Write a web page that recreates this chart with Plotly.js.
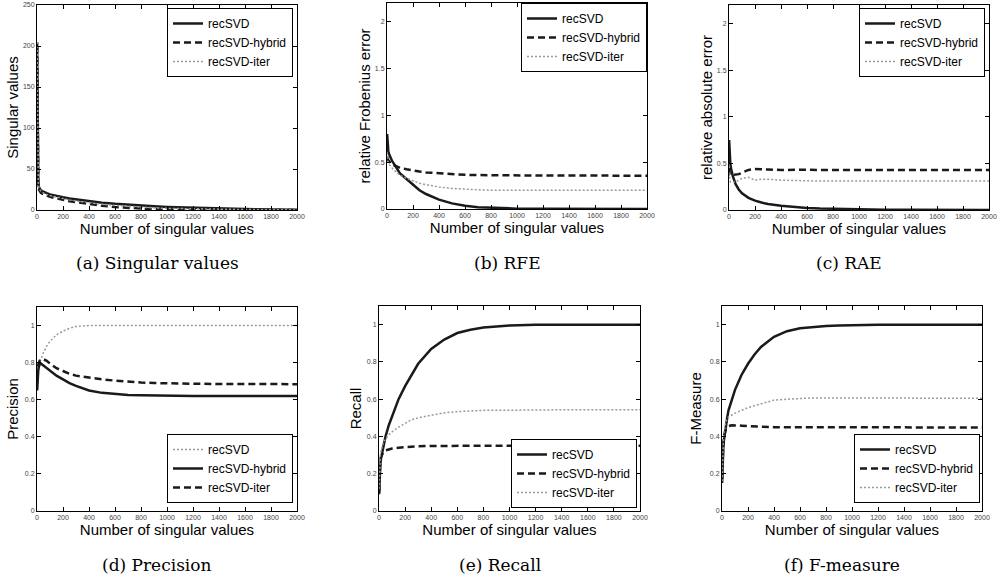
<!DOCTYPE html>
<html>
<head>
<meta charset="utf-8">
<script src="https://cdn.plot.ly/plotly-3.0.1.min.js"></script>
<style>html,body{margin:0;padding:0;background:#fff;}#chart{width:1004px;height:579px;}</style>
</head>
<body>
<div id="chart"></div>
<script>
// Number of singular values (shared x grid)
const nSV = [1,3,5,10,15,20,30,40,50,75,100,150,200,250,300,400,500,600,700,800,900,1000,1200,1400,1600,1800,2000];
const xTicks = [0,200,400,600,800,1000,1200,1400,1600,1800,2000];

// (a) Singular values
const svRec    = [205,110,60,33,28,26,24,23,22,20.5,19,17,15.5,14,12.8,10.6,8.9,7.5,6.3,5.3,4.5,3.8,2.7,1.9,1.2,0.7,0.3];
const svHybrid = [200,100,55,30,25,23,21,20,19,17.5,16,14,12,10.7,9.5,7.2,5.2,3.6,2.4,1.5,0.9,0.5,0.2,0.1,0.05,0.02,0];
const svIter   = [205,105,58,32,27,25,23,21.5,20.5,19,17.5,15.5,13.8,12.3,11,8.8,7,5.5,4.3,3.3,2.6,2,1.3,0.9,0.6,0.3,0.1];

// (b) RFE
const rfeRec    = [0.8,0.72,0.67,0.62,0.59,0.57,0.54,0.51,0.49,0.43,0.38,0.32,0.26,0.2,0.16,0.1,0.06,0.035,0.02,0.012,0.007,0.004,0.002,0.001,0,0,0];
const rfeHybrid = [0.56,0.54,0.53,0.52,0.51,0.5,0.49,0.48,0.47,0.455,0.44,0.425,0.41,0.4,0.39,0.38,0.37,0.365,0.362,0.36,0.36,0.358,0.357,0.357,0.356,0.356,0.356];
const rfeIter   = [0.6,0.55,0.53,0.5,0.48,0.47,0.45,0.43,0.42,0.39,0.36,0.33,0.3,0.275,0.26,0.235,0.22,0.21,0.205,0.2,0.2,0.2,0.2,0.2,0.2,0.2,0.2];

// (c) RAE
const raeRec    = [0.75,0.65,0.58,0.5,0.45,0.41,0.36,0.32,0.28,0.22,0.18,0.13,0.1,0.08,0.065,0.045,0.03,0.022,0.016,0.012,0.009,0.007,0.004,0.003,0.002,0.001,0.001];
const raeHybrid = [0.45,0.4,0.38,0.375,0.375,0.375,0.375,0.377,0.38,0.385,0.4,0.43,0.44,0.44,0.435,0.43,0.435,0.432,0.43,0.43,0.43,0.43,0.43,0.43,0.43,0.43,0.43];
const raeIter   = [0.4,0.35,0.32,0.3,0.3,0.3,0.3,0.3,0.3,0.32,0.34,0.35,0.32,0.33,0.33,0.32,0.315,0.31,0.31,0.31,0.31,0.31,0.31,0.31,0.31,0.31,0.31];

// (d) Precision
const precRec    = [0.7,0.73,0.75,0.77,0.79,0.8,0.82,0.84,0.855,0.89,0.915,0.95,0.97,0.985,0.995,1,1,1,1,1,1,1,1,1,1,1,1];
const precHybrid = [0.65,0.7,0.73,0.76,0.78,0.79,0.795,0.79,0.785,0.77,0.755,0.73,0.71,0.69,0.675,0.65,0.637,0.63,0.626,0.624,0.622,0.621,0.62,0.62,0.62,0.62,0.62];
const precIter   = [0.72,0.75,0.77,0.79,0.8,0.81,0.815,0.82,0.818,0.81,0.795,0.77,0.755,0.74,0.73,0.718,0.71,0.703,0.697,0.693,0.69,0.688,0.686,0.685,0.684,0.684,0.684];

// (e) Recall
const recRec    = [0.09,0.15,0.2,0.25,0.28,0.3,0.34,0.37,0.4,0.46,0.51,0.6,0.67,0.73,0.79,0.87,0.92,0.955,0.973,0.985,0.992,0.996,0.999,1,1,1,1];
const recHybrid = [0.1,0.18,0.22,0.27,0.29,0.3,0.31,0.32,0.325,0.33,0.335,0.34,0.343,0.345,0.347,0.349,0.35,0.35,0.35,0.35,0.35,0.35,0.35,0.35,0.35,0.35,0.35];
const recIter   = [0.12,0.2,0.25,0.3,0.32,0.34,0.36,0.375,0.385,0.41,0.425,0.45,0.47,0.49,0.5,0.515,0.527,0.533,0.537,0.54,0.54,0.542,0.542,0.543,0.543,0.543,0.543];

// (f) F-measure
const fRec    = [0.15,0.22,0.27,0.34,0.38,0.41,0.46,0.5,0.54,0.6,0.65,0.73,0.79,0.84,0.88,0.935,0.965,0.98,0.988,0.993,0.996,0.998,1,1,1,1,1];
const fHybrid = [0.17,0.25,0.3,0.36,0.4,0.42,0.44,0.45,0.455,0.46,0.46,0.458,0.455,0.453,0.452,0.45,0.45,0.45,0.45,0.45,0.45,0.45,0.45,0.449,0.449,0.448,0.448];
const fIter   = [0.16,0.24,0.3,0.37,0.42,0.45,0.48,0.495,0.505,0.515,0.525,0.54,0.555,0.565,0.575,0.595,0.6,0.605,0.607,0.606,0.605,0.607,0.606,0.605,0.605,0.605,0.605];

const names = ['recSVD','recSVD-hybrid','recSVD-iter'];
const captions = ['(a) Singular values','(b) RFE','(c) RAE','(d) Precision','(e) Recall','(f) F-measure'];
const yTitles = ['Singular values','relative Frobenius error','relative absolute error','Precision','Recall','F-Measure'];

const SOLID = {color:'#1a1a1a', width:2.5, dash:'solid'};
const DASH  = {color:'#1a1a1a', width:2.5, dash:'7px,4px'};
const DOT   = {color:'#9a9a9a', width:1.5, dash:'2px,2px'};

const panels = [
  {series:[svRec,svHybrid,svIter], styles:[SOLID,DASH,DOT], yr:[0,250], dt:50},
  {series:[rfeRec,rfeHybrid,rfeIter], styles:[SOLID,DASH,DOT], yr:[0,2.2], dt:0.5},
  {series:[raeRec,raeHybrid,raeIter], styles:[SOLID,DASH,DOT], yr:[0,2.2], dt:0.5},
  {series:[precRec,precHybrid,precIter], styles:[DOT,SOLID,DASH], yr:[0,1.1], dt:0.2},
  {series:[recRec,recHybrid,recIter], styles:[SOLID,DASH,DOT], yr:[0,1.1], dt:0.2},
  {series:[fRec,fHybrid,fIter], styles:[SOLID,DASH,DOT], yr:[0,1.1], dt:0.2}
];

// plot areas in pixels [left,right,top,bottom]
const W = 1004, H = 579;
const boxes = [
  [37,297,5,210],[387,647,3,209],[729,989,5,210],
  [37,297,307,511],[379,640,306,511],[722,982,306,511]
];
const yStandoff = [0,0,0,2,1,4];
// legends: [right px, edge px, anchor]
const legPos = [
  [293,8,'top'],[647,3,'top'],[985,8,'top'],
  [293,503,'bottom'],[637,508,'bottom'],[980,503,'bottom']
];

const traces = [];
const layout = {
  width:W, height:H, margin:{l:0,r:0,t:0,b:0},
  paper_bgcolor:'#fff', plot_bgcolor:'#fff',
  font:{family:'"Liberation Sans", Arial, sans-serif', color:'#000'},
  annotations:[]
};

panels.forEach((p,i)=>{
  const k = i+1;
  const xa = k===1?'x':'x'+k, ya = k===1?'y':'y'+k;
  const lg = k===1?'legend':'legend'+k;
  p.series.forEach((s,j)=>{
    traces.push({x:nSV, y:s, type:'scatter', mode:'lines', name:names[j],
      line:Object.assign({},p.styles[j]), xaxis:xa, yaxis:ya, legend:lg});
  });
  const b = boxes[i];
  const axCommon = {showline:true, linecolor:'#000', linewidth:1, mirror:'ticks',
    ticks:'inside', ticklen:4, tickcolor:'#000', showgrid:false, zeroline:false,
    tickfont:{size:7, color:'#444'}};
  layout[k===1?'xaxis':'xaxis'+k] = Object.assign({}, axCommon, {
    domain:[b[0]/W, b[1]/W], anchor:ya, range:[0,2000], tickvals:xTicks,
    title:{text:'Number of singular values', font:{size:15}, standoff:4}
  });
  layout[k===1?'yaxis':'yaxis'+k] = Object.assign({}, axCommon, {
    domain:[1-b[3]/H, 1-b[2]/H], anchor:xa, range:p.yr, dtick:p.dt, tick0:0,
    title:{text:yTitles[i], font:{size:15}, standoff:yStandoff[i]}
  });
  const lp = legPos[i];
  layout[lg] = {x:lp[0]/W, xanchor:'right', y:1-lp[1]/H, yanchor:lp[2],
    bgcolor:'#fff', bordercolor:'#000', borderwidth:1,
    font:{size:12, color:'#000'}, tracegroupgap:0, itemwidth:30};
  layout.annotations.push({text:captions[i], xref:'paper', yref:'paper',
    x:((b[0]+b[1])/2 - 10)/W, y:1-(i<3?263:565)/H, xanchor:'center', yanchor:'middle',
    showarrow:false, font:{family:'"DejaVu Serif", "Liberation Serif", serif', size:17, color:'#000'}});
});

Plotly.newPlot('chart', traces, layout, {displayModeBar:false, staticPlot:true});
</script>
</body>
</html>
